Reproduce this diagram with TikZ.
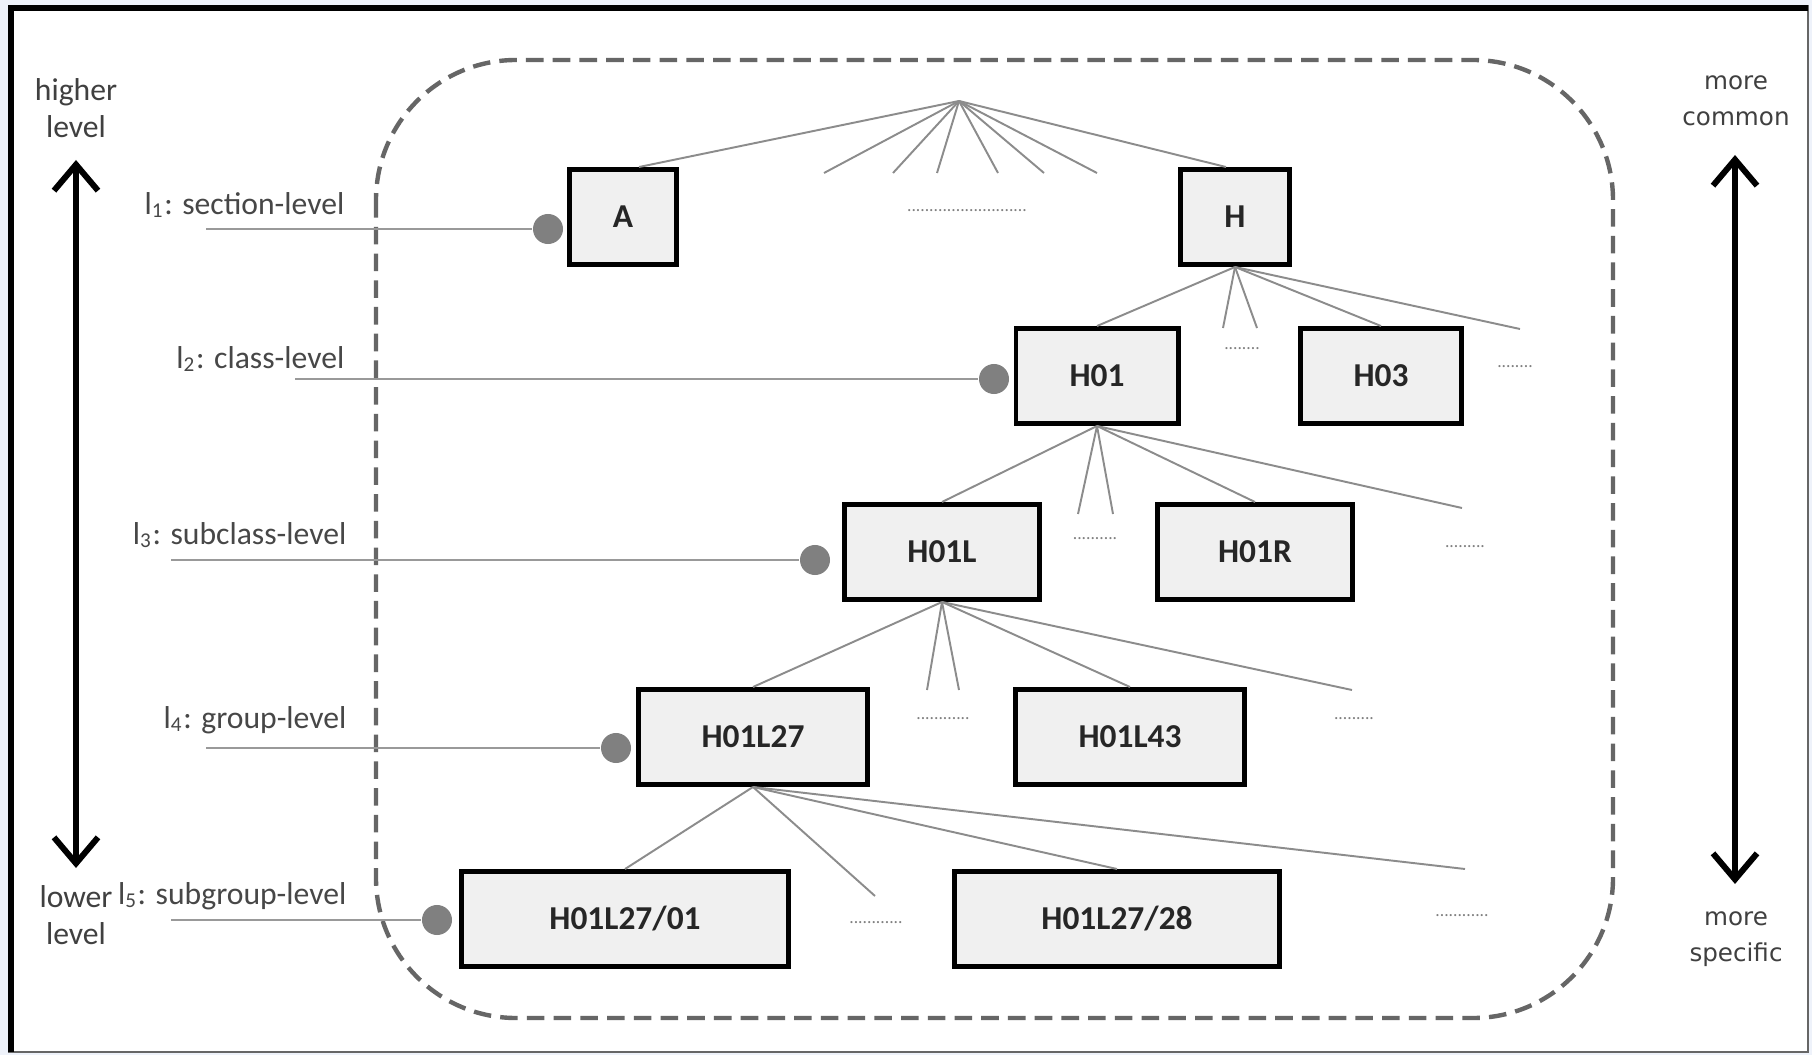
\documentclass[tikz,border=0pt]{standalone}
\usepackage{fontspec}
\setmainfont{Carlito}
\newfontfamily\widefont{DejaVu Sans}
\usepackage{tikz}
\usetikzlibrary{arrows.meta,positioning}
\definecolor{rim}{HTML}{EEF2FA}

\begin{document}
\begin{tikzpicture}[x=0.01cm,y=-0.01cm,>={Straight Barb[length=2.6mm,width=4.4mm]},
                    font=\fontsize{9}{11}\selectfont]
  \tikzstyle{cpc}=[draw=black,line width=1.4pt,fill=black!6,text=black!85,inner sep=0pt,
                   font=\fontsize{9.5}{11}\selectfont\bfseries,minimum height=0.95cm]
  \tikzstyle{link}=[draw=black!45,line width=0.55pt]
  \tikzstyle{levelline}=[draw=black!40,line width=0.75pt]
  \tikzstyle{dot}=[circle,fill=black!50,inner sep=0pt,minimum size=0.3cm]
  \tikzstyle{lvl}=[anchor=east,text=black!72,inner sep=0pt]
  \tikzstyle{side}=[align=center,text=black!75,inner sep=0pt,font=\fontsize{9}{10.5}\selectfont]
  \tikzstyle{wide}=[align=center,text=black!75,inner sep=0pt,font={\widefont\fontsize{7}{10.3}\selectfont}]
  \tikzstyle{etc}=[text=black!50,inner sep=0pt,font=\fontsize{5}{5}\selectfont]
  \tikzstyle{bigarrow}=[<->,line width=1.7pt]

  \useasboundingbox[fill=rim] (0,0) rectangle (1812,1055);
  \fill[white] (8,5) rectangle (1808,1052);
  \draw[black!60,line width=0.6pt] (1808,5) -- (1808,1052) -- (8,1052);
  \draw[black,line width=1.7pt] (11,1052) -- (11,8) -- (1808,8);

  \draw[black!60,line width=1.25pt,dash pattern=on 5pt off 2.6pt,rounded corners=1.4cm]
    (376,60) rectangle (1613,1018);

  \node[cpc,minimum width=1.07cm] (A)        at (623,217)  {A};
  \node[cpc,minimum width=1.09cm] (H)        at (1235,217) {H};
  \node[cpc,minimum width=1.62cm] (H01)      at (1097,376) {H01};
  \node[cpc,minimum width=1.61cm] (H03)      at (1381,376) {H03};
  \node[cpc,minimum width=1.94cm] (H01L)     at (942,552)  {H01L};
  \node[cpc,minimum width=1.95cm] (H01R)     at (1255,552) {H01R};
  \node[cpc,minimum width=2.28cm] (H01L27)   at (753,737)  {H01L27};
  \node[cpc,minimum width=2.29cm] (H01L43)   at (1130,737) {H01L43};
  \node[cpc,minimum width=3.27cm] (H01L27s01) at (625,919) {H01L27/01};
  \node[cpc,minimum width=3.24cm] (H01L27s28) at (1117,919) {H01L27/28};

  \coordinate (root) at (959,101);
  \path (root) edge[link] ([xshift=0.16cm]A.north)
               edge[link] ([xshift=-0.09cm]H.north);
  \foreach \x [count=\i] in {824,893,937,998,1044,1097}
    {\coordinate (r\i) at (\x,173); \draw[link] (root) -- (r\i);}

  \coordinate (h1) at (1223,328); \coordinate (h2) at (1257,328); \coordinate (h3) at (1520,329);
  \path (H.south) edge[link] (H01.north) edge[link] (H03.north)
                  edge[link] (h1) edge[link] (h2) edge[link] (h3);
  \coordinate (c1) at (1078,514); \coordinate (c2) at (1113,514); \coordinate (c3) at (1462,508);
  \path (H01.south) edge[link] (H01L.north) edge[link] (H01R.north)
                    edge[link] (c1) edge[link] (c2) edge[link] (c3);
  \coordinate (g1) at (927,690); \coordinate (g2) at (959,690); \coordinate (g3) at (1352,690);
  \path (H01L.south) edge[link] (H01L27.north) edge[link] (H01L43.north)
                     edge[link] (g1) edge[link] (g2) edge[link] (g3);
  \coordinate (s1) at (875,896); \coordinate (s2) at (1465,869);
  \path (H01L27.south) edge[link] (H01L27s01.north) edge[link] (H01L27s28.north)
                       edge[link] (s1) edge[link] (s2);

  \node[etc] (e0) at (967,211)  {...........................};
  \node[etc] (e1) at (1242,349) {........};
  \node[etc] (e2) at (1515,367) {........};
  \node[etc] (e3) at (1095,539) {..........};
  \node[etc] (e4) at (1465,547) {.........};
  \node[etc] (e5) at (943,719)  {............};
  \node[etc] (e6) at (1354,719) {.........};
  \node[etc] (e7) at (876,923)  {............};
  \node[etc] (e8) at (1462,916) {............};

  \node[lvl] (l1) at (345,205) {l\textsubscript{1}: section-level};
  \node[lvl] (l2) at (345,359) {l\textsubscript{2}: class-level};
  \node[lvl] (l3) at (347,535) {l\textsubscript{3}: subclass-level};
  \node[lvl] (l4) at (347,720) {l\textsubscript{4}: group-level};
  \node[lvl] (l5) at (347,896) {l\textsubscript{5}: subgroup-level};

  \foreach \y/\x/\s [count=\i] in {229/548/206,379/994/295,560/815/171,748/616/206,920/437/171}
    {\coordinate (t\i) at (\s,\y);
     \node[dot] (d\i) at (\x,\y) {};
     \draw[levelline] (t\i) -- (d\i);}

  \node[side] (hi) at (76,108) {higher\\level};
  \node[side] (lo) at (76,915) {lower\\level};
  \node[wide] (mc) at (1736,101) {more\\common};
  \node[wide] (ms) at (1736,939) {more\\specific};

  \coordinate (up1) at (76,160);   \coordinate (dn1) at (76,868);
  \coordinate (up2) at (1735,155); \coordinate (dn2) at (1735,884);
  \draw[bigarrow] (up1) -- (dn1);
  \draw[bigarrow] (up2) -- (dn2);
\end{tikzpicture}
\end{document}
